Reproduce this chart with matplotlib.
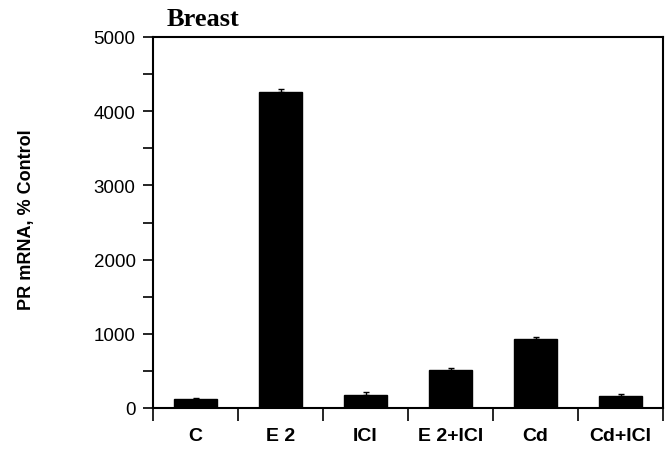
import matplotlib
matplotlib.use("Agg")
import matplotlib.pyplot as plt
import numpy as np

# data
groups = ["C", "E 2", "ICI", "E 2+ICI", "Cd", "Cd+ICI"]
pr_mrna = [127, 4260, 173, 514, 932, 168]
err_up = [5, 45, 45, 22, 23, 27]

fig = plt.figure(figsize=(6.66, 4.52), dpi=100)
ax = fig.add_axes([153/666, 1-409/452, (663-153)/666, (409-38)/452])

x = np.arange(len(groups))
ax.bar(x, pr_mrna, width=0.51, color="black", edgecolor="black")
ax.errorbar(x, pr_mrna, yerr=[np.zeros(len(err_up)), err_up], fmt="none",
            ecolor="black", elinewidth=1, capsize=2.5, capthick=1)

ax.set_xlim(-0.5, len(groups) - 0.5)
ax.set_ylim(0, 5000)
ax.set_yticks(np.arange(0, 5001, 1000))
ax.set_yticks(np.arange(500, 5000, 1000), minor=True)
ax.set_xticks(x)
ax.set_xticklabels(groups, fontweight="bold", fontsize=14, family="Liberation Sans")
ax.set_xticks(np.arange(-0.5, len(groups), 1), minor=True)
ax.tick_params(axis="x", which="major", length=0, pad=14)
ax.tick_params(axis="x", which="minor", length=9, width=1.2, direction="out")
ax.tick_params(axis="y", which="both", length=7, width=1.2, direction="out",
               labelsize=13.5, pad=5.5)
for lab in ax.get_yticklabels():
    lab.set_family("Liberation Sans")

for s in ax.spines.values():
    s.set_linewidth(1.5)

ax.set_ylabel("PR mRNA, % Control", fontweight="bold", fontsize=13,
              family="Liberation Sans")
ax.yaxis.set_label_coords((35-153)/510, (409-220)/371)

fig.text(167/666, 1-20/452, "Breast", fontsize=19, fontweight="bold",
         family="Liberation Serif", va="center", ha="left")

fig.savefig("out.png", dpi=100)
